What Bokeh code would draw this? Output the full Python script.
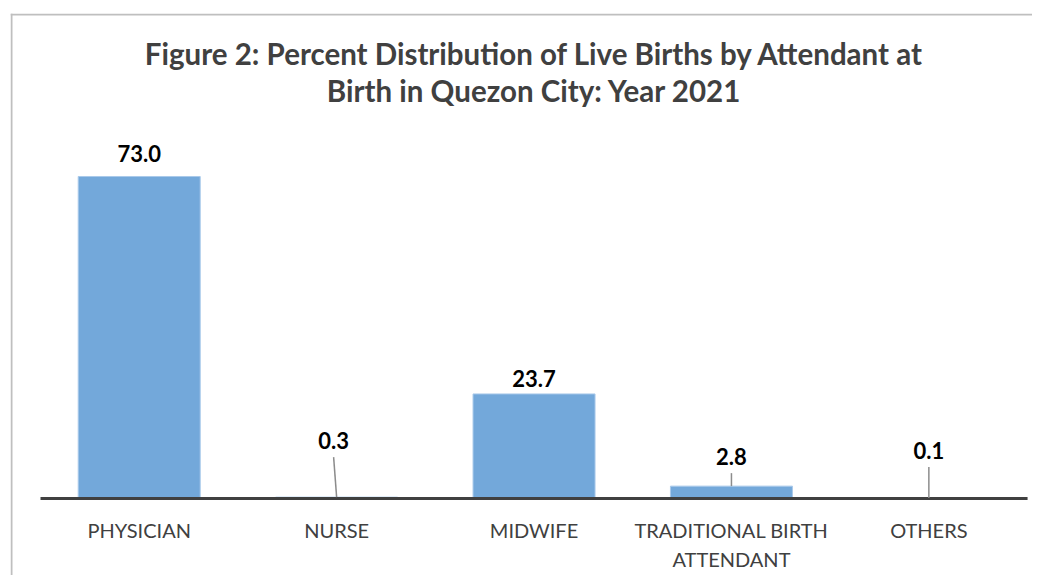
from bokeh.plotting import figure
from bokeh.models import Range1d, Span, Label, ColumnDataSource
from bokeh.core.properties import value
from bokeh.embed import file_html
from bokeh.resources import INLINE

# ---- data ----
categories = ["PHYSICIAN", "NURSE", "MIDWIFE", "TRADITIONAL BIRTH\nATTENDANT", "OTHERS"]
percent = [73.0, 0.3, 23.7, 2.8, 0.1]
value_labels = ["73.0", "0.3", "23.7", "2.8", "0.1"]
title_text = "Figure 2: Percent Distribution of Live Births by Attendant at\nBirth in Quezon City: Year 2021"

# ---- styles / label placement (pixels) ----
label_offset_px = [23, 57, 15, 30, 48]   # label centre above bar top
label_dx_px = [0, -3, 0, 0, 0]
has_leader = [False, True, False, True, True]

W, H = 1032, 575
MB_LEFT, MB_TOP = 10, 13
frame_w = W - MB_LEFT
frame_h = H - MB_TOP
x_start, x_end = -0.652, 4.525
y_start, y_end = -17.46, 109.95
ppx = frame_w / (x_end - x_start)
ppy = frame_h / (y_end - y_start)
PAGE_LEFT, PAGE_TOP = MB_LEFT, MB_TOP


def data_x(page_x):
    return x_start + (page_x - PAGE_LEFT) / ppx


def data_y(page_y):
    return y_end - (page_y - PAGE_TOP) / ppy


xs = list(range(len(categories)))

p = figure(width=W, height=H, output_backend="svg", toolbar_location=None,
           x_range=Range1d(x_start, x_end), y_range=Range1d(y_start, y_end),
           min_border_left=MB_LEFT, min_border_top=MB_TOP,
           min_border_right=0, min_border_bottom=0)
p.axis.visible = False
p.grid.visible = False
p.outline_line_color = None
p.background_fill_color = "white"
p.border_fill_color = "white"

# border of chart area (left and top visible)
p.add_layout(Span(location=data_x(11), dimension="height", line_color="#bfbfbf", line_width=2))
p.add_layout(Span(location=data_y(14), dimension="width", line_color="#bfbfbf", line_width=2))

src = ColumnDataSource(dict(
    x=xs, top=percent, cat=categories, lab=value_labels,
    yoff=[-o for o in label_offset_px], xoff=label_dx_px,
))

p.vbar(x="x", top="top", bottom=0, width=0.618, source=src,
       fill_color="#73a8da", line_color="#a9c9ea", line_width=1)

# baseline axis
p.segment(x0=[xs[0] - 0.5], x1=[xs[-1] + 0.5], y0=[0], y1=[0],
          line_color="#404040", line_width=3)

# leader lines
lx0, lx1, ly0, ly1 = [], [], [], []
for i, v in enumerate(percent):
    if has_leader[i]:
        lx0.append(xs[i] + label_dx_px[i] / ppx)
        lx1.append(xs[i])
        ly0.append(v + (label_offset_px[i] - 17) / ppy)
        ly1.append(v)
p.segment(x0=lx0, x1=lx1, y0=ly0, y1=ly1, line_color="#8c8c8c", line_width=1.5)

# value labels
p.text(x="x", y="top", text="lab", source=src, x_offset="xoff", y_offset="yoff",
       text_align="center", text_baseline="middle",
       text_font=value("Lato"), text_font_style="bold", text_font_size="22px",
       text_color="black")

# category labels
p.text(x="x", y=data_y(517), text="cat", source=src,
       text_align="center", text_baseline="top",
       text_font=value("Lato"), text_font_size="20px", text_color="#404040",
       text_line_height=1.21)

# title
p.add_layout(Label(x=data_x(534), y=data_y(35), text=title_text,
                   text_align="center", text_baseline="top",
                   text_font="Lato", text_font_style="bold", text_font_size="29.5px",
                   text_color="#404040", text_line_height=1.07))

open("out.html", "w").write(file_html(p, INLINE))
